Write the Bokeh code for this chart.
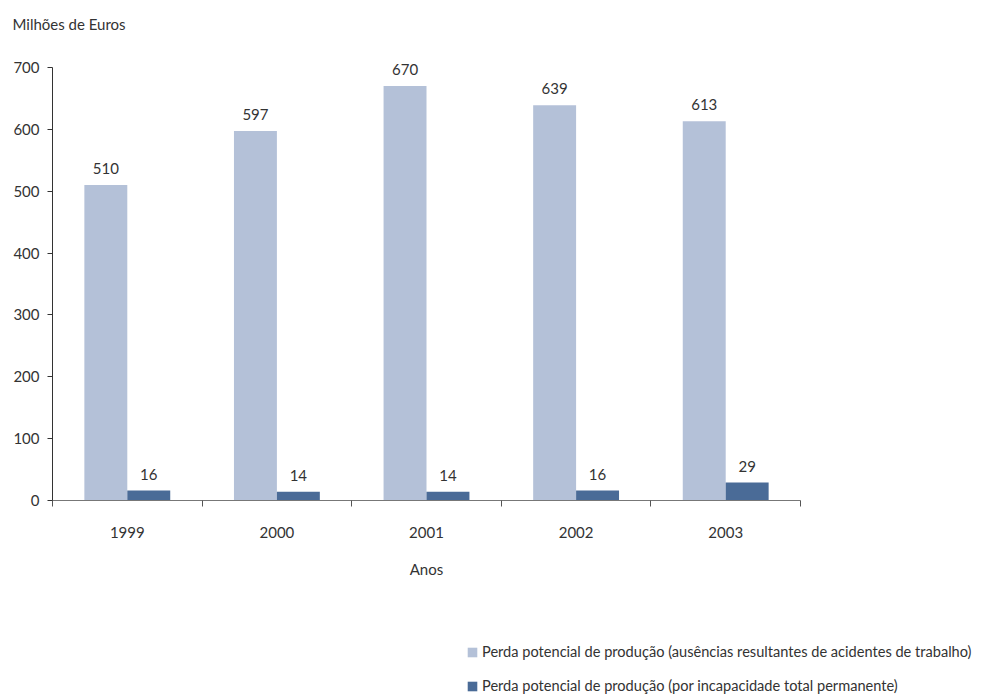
from bokeh.plotting import figure
from bokeh.models import (ColumnDataSource, Range1d, FixedTicker, Legend,
                          LegendItem)
from bokeh.core.properties import value
from bokeh.embed import file_html
from bokeh.resources import INLINE

years = ["1999", "2000", "2001", "2002", "2003"]
ausencias = [510, 597, 670, 639, 613]
incapacidade = [16, 14, 14, 16, 29]
y_ticks = [0, 100, 200, 300, 400, 500, 600, 700]
series_names = [
    "Perda potencial de produção (ausências resultantes de acidentes de trabalho)",
    "Perda potencial de produção (por incapacidade total permanente)",
]

FONT = "Lato"
TXT = "#333333"
LIGHT = "#b4c1d8"
DARK = "#4a6b97"

centers = [i + 0.5 for i in range(len(years))]
bw = 0.287
src = ColumnDataSource(dict(
    xl=[c - bw / 2 for c in centers],
    xd=[c + bw / 2 for c in centers],
    a=ausencias,
    b=incapacidade,
    la=[str(v) for v in ausencias],
    lb=[str(v) for v in incapacidade],
))

# headroom above 700 keeps the value labels inside the frame
p = figure(width=992, height=600, output_backend="svg", toolbar_location=None,
           x_range=Range1d(0, len(years)), y_range=Range1d(0, 737),
           min_border_left=52, min_border_right=192,
           min_border_top=44, min_border_bottom=100,
           title="Milhões de Euros")
p.outline_line_color = None
p.grid.grid_line_color = None
p.background_fill_color = "white"
p.border_fill_color = "white"

p.title.text_font = FONT
p.title.text_font_size = "15px"
p.title.text_font_style = "normal"
p.title.text_color = TXT
p.title.align = "left"
p.title.offset = -40
p.title.standoff = 23

p.vbar(x="xl", top="a", width=bw, bottom=0, source=src,
       fill_color=LIGHT, line_color=None)
p.vbar(x="xd", top="b", width=bw, bottom=0, source=src,
       fill_color=DARK, line_color=None)

for xcol, ycol, lcol in (("xl", "a", "la"), ("xd", "b", "lb")):
    p.text(x=xcol, y=ycol, text=lcol, source=src, y_offset=-11,
           text_align="center", text_baseline="bottom",
           text_font=value(FONT), text_font_size="15px", text_color=TXT)

# x axis: year labels at category centres, ticks at category boundaries
xa = p.xaxis[0]
xa.ticker = FixedTicker(ticks=centers, minor_ticks=list(range(len(years) + 1)))
xa.major_label_overrides = {c: y for c, y in zip(centers, years)}
xa.major_tick_line_color = None
xa.minor_tick_line_color = "#555555"
xa.minor_tick_out = 6
xa.minor_tick_in = 0
xa.axis_line_color = "#777777"
xa.major_label_text_font = FONT
xa.major_label_text_font_size = "15px"
xa.major_label_text_color = TXT
xa.major_label_standoff = 20
xa.axis_label = "Anos"
xa.axis_label_text_font = FONT
xa.axis_label_text_font_size = "15px"
xa.axis_label_text_font_style = "normal"
xa.axis_label_text_color = TXT
xa.axis_label_standoff = 19

ya = p.yaxis[0]
ya.ticker = FixedTicker(ticks=y_ticks, minor_ticks=[])
ya.bounds = (0, 700)
ya.axis_line_color = "#333333"
ya.major_tick_line_color = "#333333"
ya.major_tick_out = 5
ya.major_tick_in = 0
ya.major_label_text_font = FONT
ya.major_label_text_font_size = "15px"
ya.major_label_text_color = TXT
ya.major_label_standoff = 8

# legend strip underneath the chart; its bars share the series data but
# sit above the strip's visible y window, so only the legend shows
lg = figure(width=992, height=94, output_backend="svg", toolbar_location=None,
            x_range=Range1d(0, len(years)), y_range=Range1d(1000, 1001),
            x_axis_type=None, y_axis_type=None,
            min_border_left=0, min_border_right=0,
            min_border_top=0, min_border_bottom=0)
lg.outline_line_color = None
lg.grid.grid_line_color = None
lg.background_fill_color = "white"
lg.border_fill_color = "white"
sw_l = lg.vbar(x="xl", top="a", width=bw, bottom=0, source=src,
               fill_color=LIGHT, line_color=None)
sw_d = lg.vbar(x="xd", top="b", width=bw, bottom=0, source=src,
               fill_color=DARK, line_color=None)

legend = Legend(items=[
    LegendItem(label=series_names[0], renderers=[sw_l]),
    LegendItem(label=series_names[1], renderers=[sw_d]),
], location=(466, 0), orientation="vertical",
    glyph_width=12, glyph_height=12, label_height=16, spacing=17,
    label_standoff=4, padding=0, margin=0, border_line_color=None,
    background_fill_alpha=0, label_text_font=FONT,
    label_text_font_size="14.6px", label_text_color=TXT)
lg.add_layout(legend, "center")

open("out.html", "w").write(file_html([p, lg], INLINE))
